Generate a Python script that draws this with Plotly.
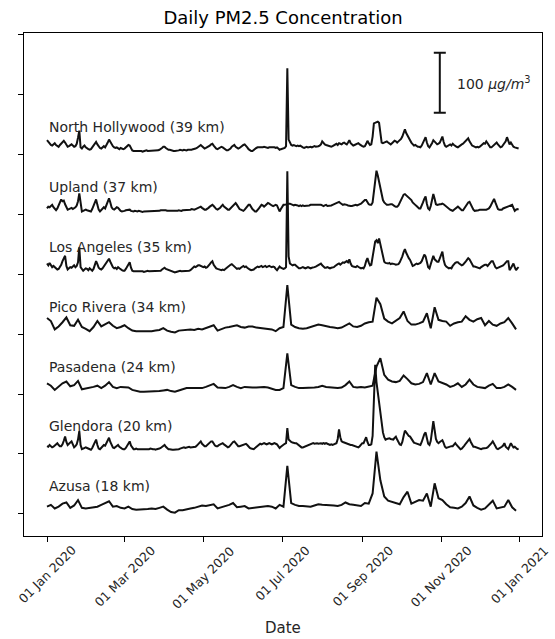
import pandas as pd
import plotly.graph_objects as go

# ---------------- data (µg/m³) ----------------
# daily sites: 366 values, 2020-01-01 .. 2020-12-31
north_hollywood = [
    24,21,18,16,15,17,19,16,14,13, 16,19,21,23,20,16,13,14,16,17, 15,13,14,18,28,40,12,10,13,15, 12,
    10,9,8,9,12,15,18,21,17,13, 11,10,12,14,12,15,20,25,21,17, 14,12,11,12,10,9,11,10,9,
    10,12,14,16,15,10,7,6,6,7, 6,6,7,6,5,6,6,7,6,6, 6,7,7,6,6,7,7,8,9,11, 13,
    13,11,9,8,8,7,7,6,6,6, 7,7,8,7,7,8,7,7,8,8, 7,8,9,9,10,11,13,15,16,14,
    12,10,11,12,13,15,17,18,15,12, 10,9,10,12,13,12,10,8,7,7, 8,10,13,15,16,13,11,10,11,13, 15,
    16,17,15,12,9,7,6,6,8,10, 11,12,12,12,11,12,13,12,12,11, 12,12,13,12,12,11,12,10,8,9,
    10,11,11,14,144,25,19,16,15,16, 15,14,15,14,15,13,12,11,12,13, 12,13,13,12,13,14,13,13,14,15, 17,
    22,19,17,16,15,14,13,13,14,15, 17,18,16,19,18,17,19,20,18,17, 20,24,19,16,15,16,17,18,19,17, 15,
    14,13,14,18,23,19,16,17,30,52, 53,54,55,53,38,20,19,20,21,22, 20,18,17,19,21,23,22,20,22,24,
    26,30,36,42,36,31,28,24,20,17, 15,16,14,13,13,12,15,19,24,29, 20,14,12,15,19,24,22,19,17,18, 20,
    25,30,21,15,13,14,16,17,15,18, 16,14,13,12,14,16,17,18,20,22, 24,27,22,18,15,14,13,12,13,12,
    13,15,17,19,18,22,19,15,12,12, 14,17,19,20,17,14,12,13,16,18, 22,29,23,17,20,15,13,12,11,11, 10,
]
upland = [
    10,13,12,14,16,12,9,7,10,15, 21,25,22,23,17,11,8,9,10,11, 9,10,12,15,22,35,14,5,6,7, 8,
    7,6,6,5,9,15,21,25,16,8, 5,7,10,12,10,15,22,27,20,12, 9,8,10,12,11,8,6,5,5,
    6,7,7,8,8,6,5,5,6,5, 5,6,5,5,4,5,5,6,5,5, 6,5,5,6,6,5,6,6,7,7, 8,
    8,7,6,6,5,5,6,5,5,6, 6,7,6,6,7,7,8,7,7,8, 8,9,8,8,9,10,11,12,13,11,
    9,8,8,9,11,13,15,16,14,11, 9,8,9,11,14,16,13,11,9,8, 8,10,12,15,17,19,16,12,9,8, 7,
    6,8,11,14,16,16,12,9,7,5, 5,7,10,13,16,15,13,15,17,19, 18,16,15,14,15,16,15,10,5,9,
    13,16,16,17,18,18,18,17,16,15, 16,16,15,14,15,14,15,14,14,14, 15,15,16,16,17,17,16,17,16,17, 16,
    15,14,15,16,14,14,14,15,16,17, 17,18,19,21,19,17,16,17,17,16, 15,14,14,14,15,16,16,15,16,16, 18,
    20,22,24,24,20,17,16,16,20,38, 62,73,65,55,40,30,24,20,17,16, 16,17,17,17,15,14,13,13,15,20,
    25,30,33,34,32,30,28,27,24,20, 17,16,14,12,10,10,14,20,26,30, 18,10,8,14,24,34,26,17,16,17, 17,
    17,18,17,15,13,11,9,8,7,6, 8,10,12,13,11,9,7,7,10,14, 18,20,21,16,11,8,6,6,7,7,
    8,8,7,8,8,8,9,10,13,17, 22,26,20,13,9,8,8,8,10,11, 12,13,13,14,15,16,11,6,8,9, 8,
]
los_angeles = [
    18,15,19,16,12,14,12,10,8,9, 12,16,22,28,31,14,8,10,12,11, 13,15,12,14,20,45,12,8,6,8, 10,
    9,7,10,8,6,9,14,22,17,11, 9,8,10,13,15,18,22,26,21,15, 12,10,11,9,12,10,8,7,6,
    6,9,13,17,20,11,6,5,5,6, 5,5,6,5,5,4,5,5,6,5, 5,6,5,5,6,5,6,5,6,8, 10,
    11,9,8,7,7,6,5,4,3,4, 5,5,6,5,5,6,5,6,5,6, 7,9,11,13,12,14,15,15,14,13,
    12,13,11,12,14,17,20,22,16,12, 10,9,8,8,7,8,7,9,11,13, 15,16,17,15,12,10,9,10,9,11, 13,
    14,12,13,11,9,8,7,7,8,10, 12,13,12,13,14,12,13,14,12,13, 14,13,12,13,12,9,7,10,13,11,
    10,9,10,12,172,30,18,17,15,16, 16,14,12,10,10,11,12,11,10,11, 12,11,10,11,11,12,13,14,15,17, 18,
    15,12,11,11,12,11,10,11,11,12, 14,16,17,18,16,18,20,19,21,22, 20,25,18,14,13,13,12,14,12,11, 10,
    11,10,14,22,27,20,15,16,30,49, 55,57,52,60,50,38,26,21,19,18, 18,19,17,18,18,17,16,16,17,20,
    24,30,37,42,36,30,27,24,18,14, 15,17,18,17,18,19,22,27,33,30, 18,12,10,18,26,31,25,22,21,21, 26,
    32,38,24,16,13,12,10,11,10,14, 17,19,20,20,18,17,15,16,18,21, 24,27,25,20,16,13,13,12,11,10,
    10,12,14,15,16,16,14,17,20,22, 22,15,12,10,11,12,13,13,15,17, 19,22,22,7,10,14,18,12,7,10, 12,
]
glendora = [
    13,12,15,13,11,12,14,16,18,15, 13,13,16,22,29,20,15,17,19,21, 16,11,13,16,24,38,15,8,9,10, 11,
    10,9,8,7,10,15,20,24,15,9, 8,10,12,15,14,18,23,27,20,14, 11,10,12,14,15,12,10,9,8,
    8,10,14,18,21,14,10,8,8,9, 8,8,8,7,8,8,8,7,8,8, 9,8,8,8,7,8,8,9,10,12, 14,
    15,12,10,8,8,7,7,7,7,7, 8,8,9,10,11,11,10,11,11,12, 11,11,12,11,12,14,16,19,21,17,
    14,13,13,15,17,19,21,21,17,14, 13,13,15,16,17,18,16,14,12,11, 12,15,18,20,21,18,15,13,13,14, 15,
    16,17,17,15,12,10,9,8,8,10, 12,14,16,17,16,17,18,17,16,17, 18,17,16,17,18,17,16,13,10,12,
    14,15,17,18,43,24,21,20,19,18, 18,18,16,14,12,11,11,12,13,14, 15,16,17,17,18,17,18,18,17,18, 18,
    17,18,17,18,17,16,15,16,15,16, 17,18,25,41,28,21,20,19,18,18, 17,16,15,15,14,13,12,11,11,13, 16,
    18,18,22,28,20,15,15,16,30,80, 149,120,103,85,71,50,36,28,24,25, 26,26,25,24,24,27,29,24,19,16,
    15,20,30,39,36,32,30,29,25,21, 19,18,17,16,15,15,20,28,33,36, 25,17,15,22,38,55,40,25,20,18, 20,
    21,23,18,12,10,11,12,13,13,13, 15,18,15,12,10,8,9,11,14,17, 20,23,25,20,15,12,12,11,10,9,
    8,8,9,9,10,10,11,13,15,18, 21,16,12,9,8,9,11,12,14,18, 12,9,8,13,18,14,11,12,10,8, 9,
]
# one-in-three-day sites: 122 values, every 3rd day from 2020-01-01
pico_rivera = [
    27,22,8,13,20,28,15,14,24,12, 9,5,12,22,13,16,20,14,10,12,
    15,10,6,5,5,4,5,5,6,7, 10,6,4,3,6,7,7,8,7,9,
    8,10,12,15,6,9,11,12,14,15, 12,11,13,13,11,10,9,9,8,5,
    10,12,82,16,12,10,9,10,12,14, 16,15,13,12,11,10,11,14,18,13,
    12,14,18,20,21,61,50,26,21,18, 22,27,38,22,16,16,18,21,35,10,
    45,24,22,21,14,18,20,21,30,24, 21,25,27,15,22,16,14,18,20,27,
    18,8,
]
pasadena = [
    18,14,7,12,18,21,13,15,22,8, 9,10,12,14,10,14,20,12,10,12,
    11,11,7,5,4,4,4,4,4,5, 6,7,5,4,6,8,10,10,10,11,
    10,12,14,17,11,10,10,12,15,12, 10,12,11,11,11,12,12,11,9,7,
    7,10,68,15,12,10,10,10,10,11, 12,14,12,11,10,10,11,15,21,12,
    11,12,11,12,14,46,60,32,24,21, 20,22,31,25,18,16,17,20,35,16,
    35,21,19,16,12,14,18,12,16,24, 16,12,11,10,14,17,10,10,12,16,
    12,7,
]
azusa = [
    12,15,9,12,17,19,10,14,23,10, 9,10,11,12,15,18,21,12,13,10,
    9,12,8,7,7,8,8,9,8,10, 12,7,3,2,6,6,8,9,10,12,
    14,13,15,16,9,11,12,15,18,11, 12,13,9,10,11,12,12,13,12,9,
    15,12,80,18,15,13,13,12,12,14, 16,15,15,15,14,13,15,19,16,15,
    14,13,18,17,34,104,56,29,22,20, 18,16,28,37,17,20,23,22,34,12,
    51,26,23,16,11,10,9,12,18,29, 14,10,7,9,15,22,9,11,12,23,
    11,5,
]

site_labels = ["Azusa (18 km)", "Glendora (20 km)", "Pasadena (24 km)", "Pico Rivera (34 km)",
               "Los Angeles (35 km)", "Upland (37 km)", "North Hollywood (39 km)"]
site_values = [azusa, glendora, pasadena, pico_rivera, los_angeles, upland, north_hollywood]
site_freq = ["3D", "D", "3D", "3D", "D", "D", "D"]

tick_dates = ["2020-01-01", "2020-03-01", "2020-05-01", "2020-07-01",
              "2020-09-01", "2020-11-01", "2021-01-01"]
tick_text = ["01 Jan 2020", "01 Mar 2020", "01 May 2020", "01 Jul 2020",
             "01 Sep 2020", "01 Nov 2020", "01 Jan 2021"]

scale_bar_value = 100
spacing = 100

# ---------------- figure ----------------
fig = go.Figure()
annotations = []
ink = "#111111"
txt = "#262626"
font_family = "DejaVu Sans"

for i, (label, vals, freq) in enumerate(zip(site_labels, site_values, site_freq)):
    off = i * spacing
    dates = pd.date_range("2020-01-01", periods=len(vals), freq=freq)
    fig.add_trace(go.Scatter(
        x=dates, y=[v + off for v in vals], mode="lines",
        line=dict(color=ink, width=2), showlegend=False, hoverinfo="skip"))
    annotations.append(dict(
        x="2020-01-01", y=off + 46, xref="x", yref="y", text=label,
        showarrow=False, xanchor="left", yanchor="middle",
        font=dict(family=font_family, size=14, color=txt)))

# scale bar (100 µg/m³)
bar_center = 6 * spacing + 120
fig.add_trace(go.Scatter(
    x=["2020-10-31"], y=[bar_center], mode="markers",
    marker=dict(size=1, color=ink),
    error_y=dict(type="constant", value=scale_bar_value / 2, color=ink, thickness=2, width=6),
    showlegend=False, hoverinfo="skip"))
annotations.append(dict(
    x="2020-11-12", y=bar_center, xref="x", yref="y",
    text="100 <i>μg/m</i><sup>3</sup>", showarrow=False, xanchor="left", yanchor="middle",
    font=dict(family=font_family, size=14, color=txt)))

# rotated date tick labels centred under ticks
for d, t in zip(tick_dates, tick_text):
    annotations.append(dict(
        x=d, y=0, xref="x", yref="paper", text=t, showarrow=False,
        textangle=-45, xanchor="center", yanchor="top", yshift=-4,
        font=dict(family=font_family, size=12.5, color=txt)))

# axis title
annotations.append(dict(
    x=0.5, y=-0.183, xref="paper", yref="paper", text="Date", showarrow=False,
    xanchor="center", yanchor="middle", font=dict(family=font_family, size=15, color=txt)))

x0 = pd.Timestamp("2020-01-01") - pd.Timedelta(days=17.8)
x1 = pd.Timestamp("2020-01-01") + pd.Timedelta(days=383.1)

fig.update_layout(
    width=555, height=639,
    margin=dict(l=24, r=13, t=33, b=103),
    paper_bgcolor="white", plot_bgcolor="white",
    title=dict(text="Daily PM2.5 Concentration", x=0.51, xanchor="center",
               y=1 - 18 / 639, yanchor="middle", yref="container",
               font=dict(family=font_family, size=18, color="black")),
    annotations=annotations,
    xaxis=dict(type="date", range=[x0.isoformat(), x1.isoformat()],
               showline=True, linecolor="black", linewidth=1, mirror=True,
               ticks="outside", ticklen=5, tickwidth=1, tickcolor="black",
               tickvals=tick_dates, showticklabels=False,
               showgrid=False, zeroline=False),
    yaxis=dict(range=[-37, 803], tickvals=[k * spacing for k in range(9)],
               showline=True, linecolor="black", linewidth=1, mirror=True,
               ticks="outside", ticklen=5, tickwidth=1, tickcolor="black",
               showticklabels=False, showgrid=False, zeroline=False),
)

# the page body has a default 8px margin; remove it so the figure sits at the window origin
fig.write_html("out.html", config={"displayModeBar": False},
               post_script="document.body.style.margin='0';document.body.style.overflow='hidden';")
